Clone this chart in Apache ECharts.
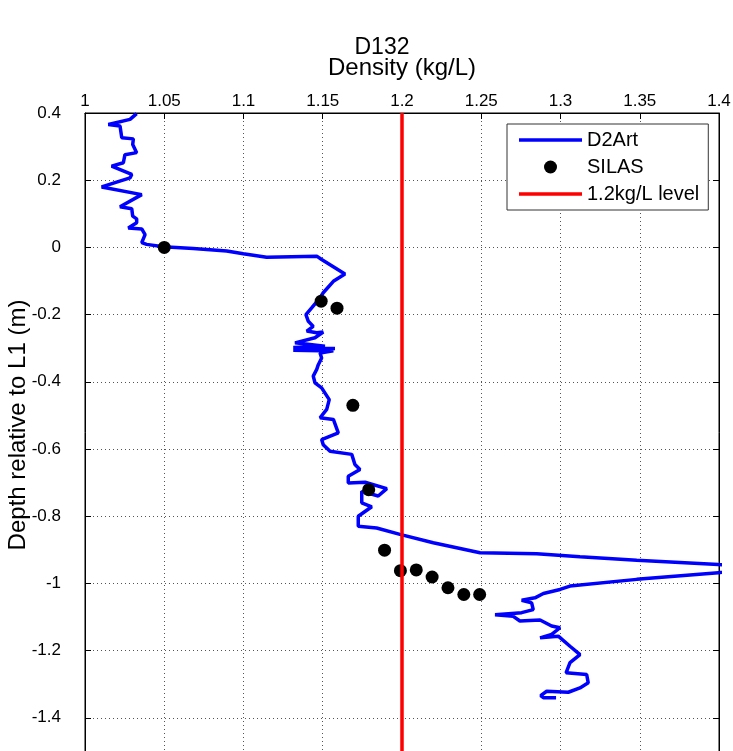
<!DOCTYPE html>
<html>
<head>
<meta charset="utf-8">
<script src="https://cdn.jsdelivr.net/npm/echarts@6/dist/echarts.min.js"></script>
<style>
html,body{margin:0;padding:0;background:#fff;}
#chart{width:733px;height:751px;}
</style>
</head>
<body>
<div id="chart"></div>
<script>
// D2Art density profile: [density (kg/L), depth relative to L1 (m)]
var d2artDensity = [
1.0326,1.0284,1.0147,1.0221,1.0232,1.0305,1.0301,1.0326,1.0252,1.0242,1.0168,1.0295,1.0284,1.0105,1.0358,1.0221,1.0295,1.0301,1.0326,1.0326,1.0273,1.0358,1.0379,1.0358,1.0389,1.0494,
1.0683,1.0894,1.0999,1.1146,1.1462,1.1493,1.1640,1.1567,1.1503,1.1483,1.1430,1.1394,1.1409,1.1440,1.1399,1.1462,1.1503,1.1451,
1.1325,1.1514,1.1314,1.1577,1.1314,1.1567,1.1483,1.1493,1.1472,1.1462,1.1440,1.1451,1.1493,
1.1541,1.1525,1.1483,1.1567,1.1598,1.1493,1.1503,1.1546,1.1683,1.1703,1.1735,1.1661,1.1661,1.1767,1.1904,1.1850,1.1746,1.1746,1.1809,1.1724,1.1724,1.1840,
1.1987,1.2197,1.2492,1.2850,1.3123,1.3481,1.3996,1.4385,1.3996,1.3481,1.3060,1.2997,1.2892,1.2839,1.2755,1.2818,1.2828,1.2755,1.2587,1.2702,1.2744,1.2871,1.2944,1.2997,1.2944,1.2871,1.2986,1.3060,1.3123,1.3060,1.3035,1.3165,1.3175,1.3123,1.3049,1.2913,1.2875,1.2892,1.2972
];
var d2artDepth = [
0.398,0.381,0.366,0.361,0.326,0.323,0.306,0.282,0.276,0.252,0.242,0.217,0.207,0.180,0.157,0.121,0.115,0.093,0.085,0.073,0.058,0.055,0.038,0.014,0.009,0.002,
-0.003,-0.011,-0.019,-0.029,-0.026,-0.036,-0.079,-0.101,-0.135,-0.150,-0.180,-0.200,-0.220,-0.235,-0.249,-0.254,-0.252,-0.269,
-0.284,-0.294,-0.298,-0.301,-0.306,-0.308,-0.314,-0.329,-0.349,-0.363,-0.383,-0.403,-0.418,
-0.453,-0.482,-0.507,-0.512,-0.552,-0.572,-0.587,-0.607,-0.616,-0.646,-0.661,-0.681,-0.701,-0.699,-0.718,-0.740,-0.726,-0.760,-0.772,-0.800,-0.830,-0.835,
-0.854,-0.879,-0.909,-0.912,-0.921,-0.931,-0.944,-0.953,-0.968,-0.988,-1.008,-1.018,-1.030,-1.043,-1.050,-1.058,-1.078,-1.087,-1.093,-1.098,-1.112,-1.109,-1.127,-1.132,-1.152,-1.162,-1.157,-1.187,-1.212,-1.236,-1.266,-1.271,-1.296,-1.311,-1.324,-1.321,-1.334,-1.340,-1.340
];
// SILAS samples
var silasDensity = [1.05,1.149,1.159,1.169,1.179,1.189,1.199,1.209,1.219,1.229,1.239,1.249];
var silasDepth = [0.0,-0.160,-0.181,-0.470,-0.721,-0.901,-0.962,-0.960,-0.981,-1.013,-1.033,-1.033];
// Reference level
var levelDensity = [1.2,1.2];
var levelDepth = [0.4,-1.6];

var FONT = "'Liberation Sans', Arial, sans-serif";
var LINE_ICON = 'path://M0,0H63V3.5H0Z';

function zip(a,b){var r=[];for(var i=0;i<a.length;i++)r.push([a[i],b[i]]);return r;}

var chart = echarts.init(document.getElementById('chart'), null, {renderer:'canvas'});
var gridLine = {show:true, lineStyle:{color:'#555', type:[1,3], width:1}};
chart.setOption({
  animation:false,
  backgroundColor:'#fff',
  title:{text:'D132', left:377, textAlign:'center', top:31,
    textStyle:{fontFamily:FONT, fontSize:23, fontWeight:'normal', color:'#000'}},
  legend:{
    orient:'vertical', left:507, top:124,
    backgroundColor:'#fff', borderColor:'#333', borderWidth:1, borderRadius:0,
    padding:[6,9,6,12], itemWidth:63, itemHeight:13, itemGap:7,
    textStyle:{fontFamily:FONT, fontSize:20, color:'#000'},
    data:[
      {name:'D2Art', icon:LINE_ICON},
      {name:'SILAS', icon:'circle'},
      {name:'1.2kg/L level', icon:LINE_ICON}
    ]
  },
  grid:{left:85, top:113, width:634, height:672, show:true, borderColor:'#000', borderWidth:1,
    containLabel:false, outerBoundsMode:'none'},
  xAxis:[{
    type:'value', position:'top', min:1, max:1.4, interval:0.05,
    name:'Density (kg/L)', nameLocation:'middle', nameGap:33, nameMoveOverlap:false,
    nameTextStyle:{fontFamily:FONT, fontSize:24, color:'#000'},
    axisLine:{show:true, onZero:false, lineStyle:{color:'#000'}},
    axisTick:{show:true, inside:true, length:6, lineStyle:{color:'#000'}},
    axisLabel:{fontFamily:FONT, fontSize:17, color:'#000', margin:3},
    splitLine:gridLine
  }],
  yAxis:[{
    type:'value', position:'left', min:-1.6, max:0.4, interval:0.2,
    name:'Depth relative to L1 (m)', nameLocation:'middle', nameGap:55, nameMoveOverlap:false,
    nameTextStyle:{fontFamily:FONT, fontSize:24, color:'#000', padding:[0,0,0,48]},
    axisLine:{show:true, onZero:false, lineStyle:{color:'#000'}},
    axisTick:{show:true, inside:true, length:6, lineStyle:{color:'#000'}},
    axisLabel:{fontFamily:FONT, fontSize:17, color:'#000', margin:24},
    splitLine:gridLine
  },{
    type:'value', position:'right', min:-1.6, max:0.4, interval:0.2,
    axisLine:{show:true, onZero:false, lineStyle:{color:'#000'}},
    axisTick:{show:true, inside:true, length:6, lineStyle:{color:'#000'}},
    axisLabel:{show:false}, splitLine:{show:false}
  }],
  series:[
    {name:'D2Art', type:'line', data:zip(d2artDensity,d2artDepth), symbol:'none',
     lineStyle:{color:'#0000ff', width:3.5}, itemStyle:{color:'#0000ff'}, clip:true, z:2},
    {name:'SILAS', type:'scatter', data:zip(silasDensity,silasDepth), symbol:'circle', symbolSize:13,
     itemStyle:{color:'#000', opacity:1}, z:3},
    {name:'1.2kg/L level', type:'line', data:zip(levelDensity,levelDepth), symbol:'none',
     lineStyle:{color:'#ff0000', width:3.5}, itemStyle:{color:'#ff0000'}, clip:true, z:4}
  ]
});
</script>
</body>
</html>
